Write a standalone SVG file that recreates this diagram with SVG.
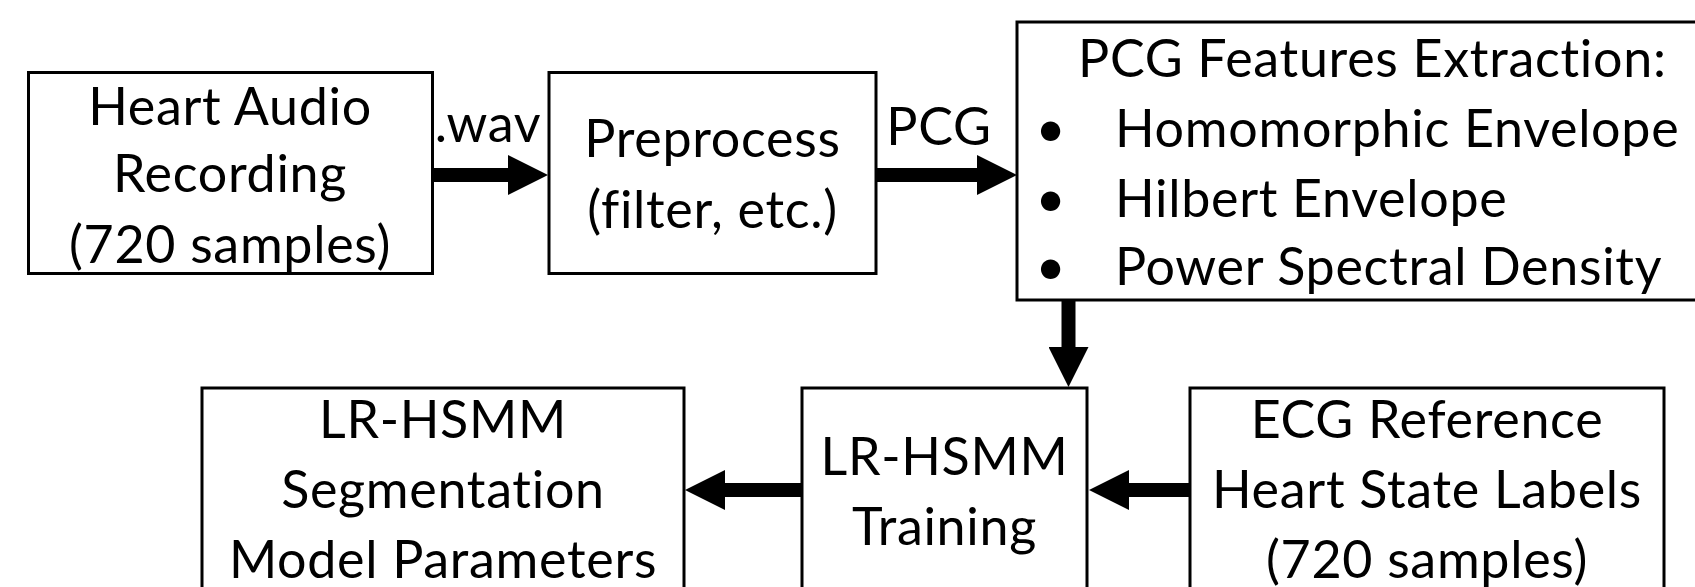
<svg xmlns="http://www.w3.org/2000/svg" width="1695" height="587" viewBox="0 0 1695 587">
<style>
.box{fill:#fff;stroke:#000;stroke-width:3}
.t,.l{font-family:Lato,"Open Sans",sans-serif;font-size:52px;letter-spacing:0.7px;fill:#000;font-variant-ligatures:none}
.t{text-anchor:middle}
.c{stroke:#000;stroke-width:14;fill:none;marker-end:url(#ah)}
</style>
<defs>
<marker id="ah" markerUnits="userSpaceOnUse" markerWidth="40" markerHeight="40" refX="1" refY="20" orient="auto">
<path d="M0,0 L40,20 L0,40 z" fill="#000"/>
</marker>
</defs>
<rect width="1695" height="587" fill="#fff"/>
<g id="connectors">
<line class="c" x1="433" y1="175" x2="509" y2="175"/>
<line class="c" x1="876" y1="175" x2="978" y2="175"/>
<line class="c" x1="1068.5" y1="300" x2="1068.5" y2="348"/>
<line class="c" x1="1190" y1="490" x2="1128" y2="490"/>
<line class="c" x1="802" y1="490" x2="724" y2="490"/>
<text class="t" x="488" y="142">.wav</text>
<text class="t" x="939" y="145">PCG</text>
</g>
<g id="heart-audio">
<rect class="box" x="28.5" y="72.5" width="404" height="201"/>
<text class="t" x="230" y="125">Heart Audio</text>
<text class="t" x="230" y="192">Recording</text>
<text class="t" x="230" y="263">(720 samples)</text>
</g>
<g id="preprocess">
<rect class="box" x="549" y="72.5" width="327" height="201"/>
<text class="t" x="712.5" y="157">Preprocess</text>
<text class="t" x="712.5" y="228">(filter, etc.)</text>
</g>
<g id="pcg-features">
<rect class="box" x="1017" y="22" width="700" height="278"/>
<text class="l" x="1078" y="77">PCG Features Extraction:</text>
<text class="t" x="1051" y="147">•</text>
<text class="l" x="1115" y="147">Homomorphic Envelope</text>
<text class="t" x="1051" y="217">•</text>
<text class="l" x="1115" y="217">Hilbert Envelope</text>
<text class="t" x="1051" y="285">•</text>
<text class="l" x="1115" y="285">Power Spectral Density</text>
</g>
<g id="segmentation-params">
<rect class="box" x="202" y="388" width="482" height="230"/>
<text class="t" x="443" y="438">LR-HSMM</text>
<text class="t" x="443" y="508">Segmentation</text>
<text class="t" x="443" y="578">Model Parameters</text>
</g>
<g id="training">
<rect class="box" x="802" y="388" width="285" height="230"/>
<text class="t" x="944.5" y="475">LR-HSMM</text>
<text class="t" x="944.5" y="545">Training</text>
</g>
<g id="ecg-reference">
<rect class="box" x="1190" y="388" width="474" height="230"/>
<text class="t" x="1427" y="438">ECG Reference</text>
<text class="t" x="1427" y="508">Heart State Labels</text>
<text class="t" x="1427" y="578">(720 samples)</text>
</g>
</svg>
